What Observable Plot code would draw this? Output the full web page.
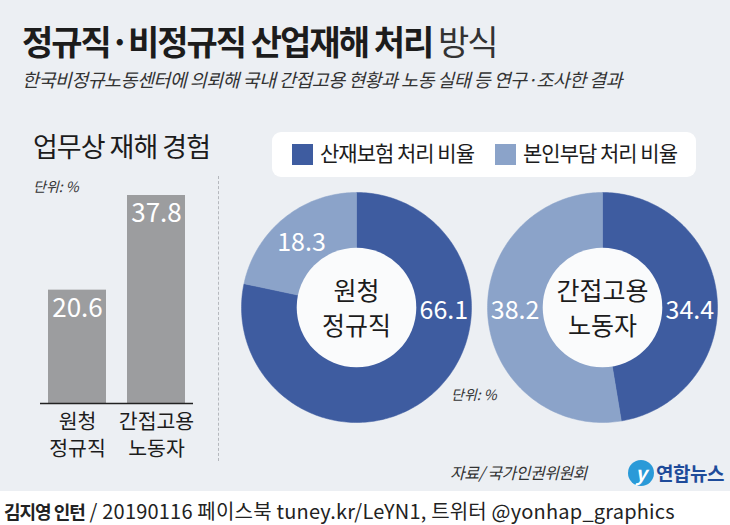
<!DOCTYPE html>
<html><head><meta charset="utf-8">
<script src="https://cdn.jsdelivr.net/npm/d3@7"></script>
<script src="https://cdn.jsdelivr.net/npm/@observablehq/plot@0.6"></script>
<style>
body{margin:0;width:730px;height:525px;overflow:hidden;background:#fff;font-family:"Noto Sans CJK KR","Noto Sans",sans-serif;}
#bg{position:absolute;left:0;top:0;width:730px;height:491px;background:#eceff3;}
.t{position:absolute;white-space:nowrap;color:#1c1c1c;}
#bars,#d1,#d2{position:absolute;}
#dash{position:absolute;left:218px;top:176px;height:285px;border-left:1.5px dashed #b5b8bd;}
#legend{position:absolute;left:272px;top:132px;width:424px;height:45px;background:#fff;border-radius:9px;}
.sw{position:absolute;width:21px;height:21px;top:12px;}
</style></head>
<body>
<div id="bg"></div>
<div class="t" style="left:22px;top:16px;font-size:34px;font-weight:700;letter-spacing:-2px;">정규직·비정규직 산업재해 처리 <span style="font-weight:400;color:#333">방식</span></div>
<div class="t" style="left:22px;top:66px;font-size:18.5px;font-style:italic;letter-spacing:-0.6px;color:#333;">한국비정규노동센터에 의뢰해 국내 간접고용 현황과 노동 실태 등 연구·조사한 결과</div>
<div class="t" style="left:33px;top:126px;font-size:27px;letter-spacing:-1px;">업무상 재해 경험</div>
<div class="t" style="left:33px;top:176px;font-size:14px;font-style:italic;color:#333;">단위: %</div>
<div id="dash"></div>
<div id="legend">
  <div class="sw" id="sw0" style="left:20px;"></div>
  <div class="t" id="lg0" style="left:48px;top:5px;font-size:21px;letter-spacing:-1px;"></div>
  <div class="sw" id="sw1" style="left:223px;"></div>
  <div class="t" id="lg1" style="left:251px;top:5px;font-size:21px;letter-spacing:-1px;"></div>
</div>
<div id="bars" style="left:30px;top:180px;"></div>
<div id="d1" style="left:236px;top:187px;"></div>
<div id="d2" style="left:482px;top:187px;"></div>
<div class="t" style="left:451px;top:384px;font-size:14px;font-style:italic;color:#333;">단위: %</div>
<div class="t" style="left:450px;top:460px;font-size:16px;font-style:italic;letter-spacing:-0.5px;color:#333;">자료/ 국가인권위원회</div>
<div class="t" style="left:628px;top:458px;">
  <span style="display:inline-block;width:26px;height:26px;border-radius:50%;background:#2a9ad8;color:#fff;font-style:italic;font-weight:700;text-align:center;line-height:26px;font-size:20px;vertical-align:middle;">y</span><span style="font-size:19px;font-weight:700;color:#1e4b9a;letter-spacing:-0.5px;vertical-align:middle;margin-left:2px;">연합뉴스</span>
</div>
<div class="t" style="left:4px;top:499px;font-size:20px;line-height:24px;letter-spacing:0.2px;color:#222;"><b style="font-size:18px;letter-spacing:-1px;">김지영 인턴</b> / 20190116 페이스북 tuney.kr/LeYN1, 트위터 @yonhap_graphics</div>
<script>
// ---- data ----
const barCategories = ["원청\n정규직", "간접고용\n노동자"];
const barValues = [20.6, 37.8];
const seriesNames = ["산재보험 처리 비율", "본인부담 처리 비율"];
const seriesColors = ["#3e5ca0", "#8ba3c9"];
const donutCategories = ["원청\n정규직", "간접고용\n노동자"];
const insuranceShare = [66.1, 34.4];
const selfPaidShare = [18.3, 38.2];

const FONT = '"Noto Sans CJK KR","Noto Sans",sans-serif';

// legend
seriesNames.forEach((n, i) => {
  document.getElementById("sw" + i).style.background = seriesColors[i];
  document.getElementById("lg" + i).textContent = n;
});

// ---- bar chart ----
const barData = barCategories.map((c, i) => ({c, v: barValues[i]}));
document.getElementById("bars").append(Plot.plot({
  width: 173, height: 290,
  marginLeft: 10, marginRight: 10, marginTop: 15, marginBottom: 67,
  style: {background: "transparent", fontFamily: FONT, overflow: "visible"},
  x: {domain: barCategories, paddingInner: 0.266, paddingOuter: 0.101, label: null},
  y: {domain: [0, 37.8], axis: null},
  marks: [
    Plot.barY(barData, {x: "c", y: "v", fill: "#9c9d9f"}),
    Plot.ruleY([0], {stroke: "#222", strokeWidth: 1.3}),
    Plot.text(barData, {x: "c", y: "v", text: d => d.v.toFixed(1), lineAnchor: "top", dy: 8,
      fill: "white", fontSize: 26, letterSpacing: -0.5}),
    Plot.axisX({tickSize: 0, tickPadding: 6, fontSize: 20.5, lineHeight: 1.32, fill: "#1c1c1c", letterSpacing: -1.5})
  ]
}));

// ---- donuts ----
const INNER = 0.52;
function donut(idx) {
  const vals = [insuranceShare[idx], selfPaidShare[idx]];
  const total = d3.sum(vals);
  const pts = [];
  const labels = [];
  let a = 0;
  vals.forEach((v, s) => {
    const a0 = a, a1 = a + v / total * 2 * Math.PI;
    a = a1;
    const n = Math.max(2, Math.ceil((a1 - a0) / 0.02));
    pts.push({s: seriesNames[s], x: 0, y: 0});
    for (let k = 0; k <= n; k++) {
      const t = a0 + (a1 - a0) * k / n;
      pts.push({s: seriesNames[s], x: Math.sin(t), y: Math.cos(t)});
    }
    pts.push({s: seriesNames[s], x: 0, y: 0});
    // label angle: horizontal if slice crosses 3 or 9 o'clock, else mid-angle
    let la;
    if (a0 <= Math.PI / 2 && a1 >= Math.PI / 2) la = Math.PI / 2;
    else if (a0 <= 1.5 * Math.PI && a1 >= 1.5 * Math.PI) la = 1.5 * Math.PI;
    else la = (a0 + a1) / 2;
    const r = (1 + INNER) / 2;
    labels.push({x: Math.sin(la) * r, y: Math.cos(la) * r, t: v.toFixed(1)});
  });
  return Plot.plot({
    width: 240, height: 240, margin: 5,
    style: {background: "transparent", fontFamily: FONT, overflow: "visible"},
    x: {domain: [-1, 1], axis: null},
    y: {domain: [-1, 1], axis: null},
    color: {domain: seriesNames, range: seriesColors},
    marks: [
      Plot.line(pts, {x: "x", y: "y", z: "s", fill: "s", stroke: "s", strokeWidth: 0.5}),
      Plot.dot([0], {x: () => 0, y: () => 0, r: 115 * INNER, fill: "#fafbfc", stroke: "none"}),
      Plot.text(labels, {x: "x", y: "y", text: "t", fill: "white", fontSize: 25, letterSpacing: -1, dy: 3}),
      Plot.text([donutCategories[idx]], {x: () => 0, y: () => 0, text: d => d, fontSize: 25,
        lineHeight: 1.4, fill: "#1c1c1c", letterSpacing: -1.5, dy: -1})
    ]
  });
}
document.getElementById("d1").append(donut(0));
document.getElementById("d2").append(donut(1));
</script>
</body></html>
